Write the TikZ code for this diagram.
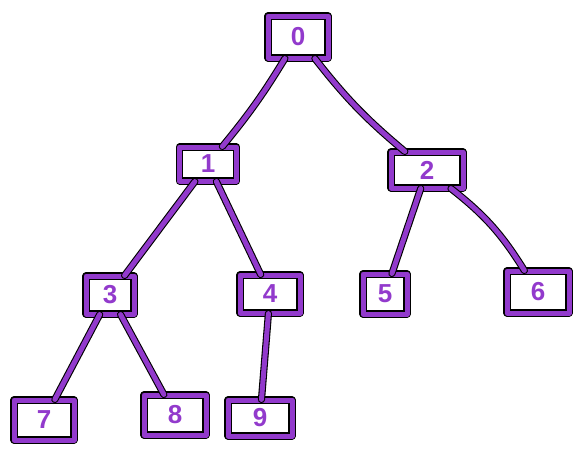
\documentclass[tikz,border=0pt]{standalone}
\usepackage{fontspec}
\setsansfont{Liberation Sans}
\definecolor{purp}{RGB}{146,58,204}
\tikzset{
  ink/.style={draw=black, line width=1.1pt, double=purp, double distance=5pt, line cap=round, line join=round},
  tnode/.style={ink, fill=white, rectangle, inner sep=0pt, text=purp, font=\sffamily\bfseries\fontsize{26}{26}\selectfont},
  edge/.style={ink}
}
\begin{document}
\begin{tikzpicture}[x=1pt,y=-1pt]
\useasboundingbox (0,0) rectangle (576,448);
\node[tnode, minimum width=60pt, minimum height=42pt] (n0) at (298,37) {};
\node[tnode, minimum width=57pt, minimum height=34pt] (n1) at (208,164) {};
\node[tnode, minimum width=72pt, minimum height=36pt] (n2) at (427,170) {};
\node[tnode, minimum width=48pt, minimum height=38pt] (n3) at (110,295) {};
\node[tnode, minimum width=60pt, minimum height=38pt] (n4) at (270,294) {};
\node[tnode, minimum width=44pt, minimum height=40pt] (n5) at (385,294) {};
\node[tnode, minimum width=62pt, minimum height=42pt] (n6) at (538,292) {};
\node[tnode, minimum width=60pt, minimum height=40pt] (n7) at (44,420) {};
\node[tnode, minimum width=62pt, minimum height=40pt] (n8) at (175,415) {};
\node[tnode, minimum width=64pt, minimum height=36pt] (n9) at (260,418) {};
\draw[edge] (n0) to[bend left=4] (n1);
\draw[edge] (n0) to[bend right=6] (n2);
\draw[edge] (n1) -- (n3);
\draw[edge] (n1) -- (n4);
\draw[edge] (n2) -- (n5);
\draw[edge] (n2) to[bend left=10] (n6);
\draw[edge] (n3) -- (n7);
\draw[edge] (n3) -- (n8);
\draw[edge] (n4) -- (n9);
\foreach \n/\t in {n0/0,n1/1,n2/2,n3/3,n4/4,n5/5,n6/6,n7/7,n8/8,n9/9}{
  \node[tnode, draw=none, double=none, fill=none] at (\n) {\t};
}
\end{tikzpicture}
\end{document}
